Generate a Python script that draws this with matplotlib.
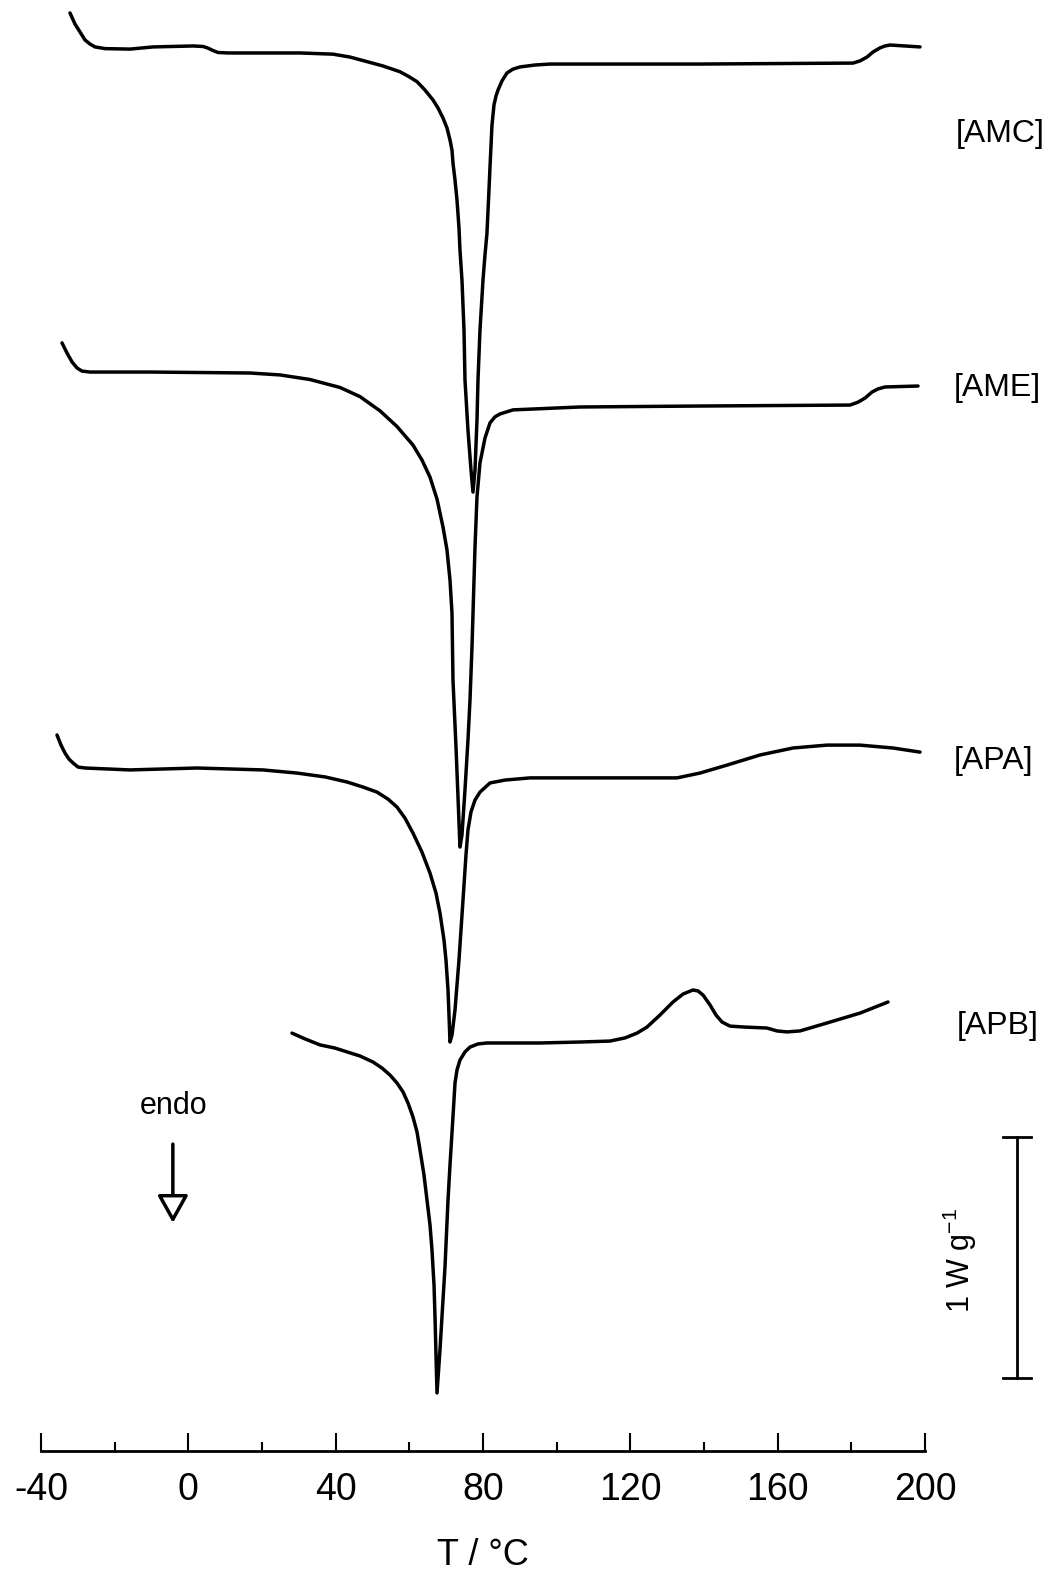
import matplotlib
matplotlib.use("Agg")
import matplotlib.pyplot as plt

plt.rcParams['font.family'] = ['Liberation Sans', 'DejaVu Sans']
plt.rcParams['mathtext.default'] = 'regular'
plt.rcParams['axes.unicode_minus'] = False

# DSC traces, heat flow in W/g (stacked with offsets, endo down)
amc_T = [-32.13, -30.77, -29.41, -28.06, -26.70, -25.34, -22.62, -15.84, -9.59, 1.27,
         3.98, 5.34, 6.70, 8.05, 10.77, 30.32, 39.28, 43.89, 48.51, 52.85,
         57.47, 59.64, 62.08, 64.25, 66.42, 67.78, 69.14, 70.22, 71.04, 71.58,
         71.85, 72.40, 72.94, 73.48, 73.75, 74.29, 74.84, 75.11, 75.92, 76.74,
         77.28, 77.83, 78.37, 78.64, 79.18, 80.00, 80.54, 81.08, 81.62, 81.90,
         82.44, 82.98, 83.53, 84.07, 85.15, 86.51, 88.14, 90.04, 94.11, 98.19,
         138.91, 180.45, 182.35, 184.25, 185.88, 187.78, 189.14, 190.49, 198.64]
amc_Q = [5.967, 5.921, 5.888, 5.855, 5.838, 5.826, 5.819, 5.817, 5.826, 5.830,
         5.828, 5.821, 5.811, 5.803, 5.801, 5.801, 5.796, 5.784, 5.765, 5.747,
         5.723, 5.705, 5.682, 5.647, 5.606, 5.573, 5.531, 5.490, 5.440, 5.398,
         5.344, 5.274, 5.191, 5.075, 4.983, 4.859, 4.651, 4.444, 4.236, 4.071,
         3.979, 4.071, 4.278, 4.444, 4.651, 4.859, 4.963, 5.054, 5.232, 5.328,
         5.502, 5.585, 5.622, 5.647, 5.685, 5.718, 5.734, 5.743, 5.751, 5.755,
         5.755, 5.759, 5.768, 5.784, 5.805, 5.822, 5.830, 5.834, 5.826]

ame_T = [-34.30, -32.94, -31.58, -30.23, -28.87, -26.70, -10.41, 16.74, 24.89, 33.03,
         41.18, 46.61, 52.04, 56.65, 60.99, 63.43, 65.61, 67.51, 69.14, 70.22,
         71.04, 71.58, 71.85, 72.67, 73.21, 73.75, 74.29, 75.11, 75.92, 76.47,
         77.01, 77.83, 78.37, 79.18, 80.54, 81.90, 83.25, 84.61, 88.14, 106.33,
         138.91, 179.64, 181.81, 183.71, 185.61, 187.24, 189.14, 198.10]
ame_Q = [4.598, 4.556, 4.519, 4.494, 4.481, 4.477, 4.477, 4.473, 4.465, 4.446,
         4.413, 4.375, 4.316, 4.251, 4.174, 4.112, 4.041, 3.950, 3.834, 3.739,
         3.614, 3.477, 3.199, 2.921, 2.714, 2.506, 2.556, 2.743, 2.950, 3.116,
         3.336, 3.751, 3.959, 4.100, 4.203, 4.266, 4.291, 4.303, 4.320, 4.332,
         4.336, 4.340, 4.352, 4.369, 4.394, 4.407, 4.415, 4.419]

apa_T = [-35.66, -34.57, -33.48, -32.40, -31.31, -29.95, -28.06, -15.84, 2.35, 20.27,
         29.50, 37.11, 43.08, 47.42, 51.23, 54.21, 56.65, 58.82, 60.99, 63.43,
         65.61, 67.24, 68.32, 69.41, 69.95, 70.50, 70.77, 71.04, 71.58, 72.40,
         73.48, 74.57, 75.38, 75.92, 76.74, 77.83, 79.18, 81.90, 85.97, 92.76,
         132.67, 138.91, 146.24, 155.20, 164.16, 173.39, 182.35, 191.31, 198.64]
apa_Q = [2.971, 2.929, 2.896, 2.871, 2.855, 2.838, 2.834, 2.826, 2.834, 2.826,
         2.813, 2.797, 2.776, 2.755, 2.734, 2.705, 2.672, 2.626, 2.564, 2.485,
         2.398, 2.315, 2.232, 2.120, 2.037, 1.913, 1.809, 1.697, 1.726, 1.830,
         2.037, 2.286, 2.473, 2.577, 2.652, 2.701, 2.734, 2.772, 2.784, 2.793,
         2.793, 2.813, 2.846, 2.888, 2.917, 2.929, 2.929, 2.917, 2.900]

apb_T = [28.14, 31.67, 35.75, 39.82, 43.08, 46.61, 50.14, 52.58, 54.75, 56.65,
         58.28, 59.64, 60.99, 62.08, 62.90, 63.98, 64.80, 65.61, 66.15, 66.70,
         66.97, 67.24, 67.51, 68.32, 69.14, 69.68, 70.50, 71.04, 71.58, 72.40,
         72.94, 73.75, 75.11, 76.47, 78.64, 81.08, 95.47, 106.33, 114.48, 118.55,
         121.81, 124.52, 128.05, 131.58, 134.30, 137.01, 138.37, 139.73, 141.63, 143.26,
         144.89, 147.06, 151.13, 157.10, 159.82, 162.53, 166.06, 173.39, 182.35, 189.95]
apb_Q = [1.734, 1.710, 1.685, 1.672, 1.656, 1.639, 1.614, 1.589, 1.560, 1.527,
         1.490, 1.444, 1.386, 1.324, 1.249, 1.145, 1.041, 0.938, 0.834, 0.689,
         0.556, 0.398, 0.241, 0.419, 0.627, 0.763, 1.041, 1.187, 1.320, 1.527,
         1.581, 1.622, 1.656, 1.676, 1.689, 1.693, 1.693, 1.697, 1.701, 1.714,
         1.734, 1.759, 1.809, 1.863, 1.896, 1.913, 1.909, 1.892, 1.851, 1.809,
         1.780, 1.763, 1.759, 1.755, 1.743, 1.739, 1.743, 1.776, 1.817, 1.863]

labels = ['[AMC]', '[AME]', '[APA]', '[APB]']
label_T = [220.4, 219.6, 218.5, 219.6]
label_Q = [5.465, 4.410, 2.862, 1.762]

fig = plt.figure(figsize=(10.48, 15.71), dpi=100)
ax = fig.add_axes([41/1048, 120/1571, 884/1048, 1451/1571])

for T, Q in [(amc_T, amc_Q), (ame_T, ame_Q), (apa_T, apa_Q), (apb_T, apb_Q)]:
    ax.plot(T, Q, color='black', lw=2.5, solid_joinstyle='round', solid_capstyle='round')

for name, t, q in zip(labels, label_T, label_Q):
    ax.text(t, q, name, fontsize=23, ha='center', va='center', clip_on=False)

# scale bar: 1 W/g
ax.plot([225.0, 225.0], [0.303, 1.303], color='black', lw=2, clip_on=False)
ax.plot([221.3, 228.7], [0.303, 0.303], color='black', lw=2, clip_on=False)
ax.plot([221.3, 228.7], [1.303, 1.303], color='black', lw=2, clip_on=False)
ax.text(209.5, 0.793, '1 W g$^{-1}$', fontsize=22, rotation=90, ha='center', va='center',
        clip_on=False)

# endo arrow
ax.text(-3.9, 1.43, 'endo', fontsize=22, ha='center', va='center')
ax.annotate('', xy=(-4.2, 0.935), xytext=(-4.2, 1.285),
            arrowprops=dict(arrowstyle='-|>,head_length=1.7,head_width=0.95',
                            mutation_scale=10, fc='white', ec='black', lw=2.5))

ax.set_xlim(-40, 200)
ax.set_ylim(0, 1451/241)
for s in ['left', 'right', 'top']:
    ax.spines[s].set_visible(False)
ax.spines['bottom'].set_linewidth(2)
ax.set_yticks([])
ax.set_xticks(range(-40, 201, 40))
ax.set_xticks(range(-40, 201, 20), minor=True)
ax.tick_params(axis='x', which='major', direction='in', length=13, width=1.5,
               labelsize=27, pad=15)
ax.tick_params(axis='x', which='minor', direction='in', length=6.5, width=1.5)
ax.set_xlabel('T / °C', fontsize=26, labelpad=22)

fig.savefig('out.png', dpi=100)
